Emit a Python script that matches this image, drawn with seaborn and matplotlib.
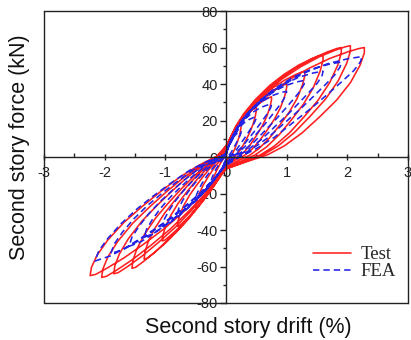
import numpy as np
import pandas as pd
import matplotlib
matplotlib.use("Agg")
import matplotlib.pyplot as plt
import seaborn as sns

# ---- data ----
# peak points of each cycle (drift %, force kN)
test_pos_drift = [0.25, 0.5, 0.75, 1.0, 1.3, 1.6, 1.9, 2.05, 2.28]
test_pos_force = [18, 27, 33, 40, 47, 56, 60, 61, 60]
test_neg_drift = [-0.25, -0.5, -0.8, -1.05, -1.35, -1.55, -1.85, -2.05, -2.24]
test_neg_force = [-18, -28, -38, -46, -56, -61, -64, -66, -65]

fea_pos_drift = [0.25, 0.5, 0.75, 1.0, 1.3, 1.6, 1.9, 2.24]
fea_pos_force = [14, 22, 29, 36, 42, 47, 52, 55]
fea_neg_drift = [-0.25, -0.5, -0.8, -1.05, -1.35, -1.6, -1.9, -2.16]
fea_neg_force = [-14, -23, -31, -38, -44, -49, -53, -57]

# loop outline read from the largest loops, as fractions of the cycle peak
test_loop_pos_x = [0.0, 0.05, 0.1, 0.18, 0.3, 0.45, 0.6, 0.75, 0.88, 0.96, 1.0,
                   1.0, 0.97, 0.9, 0.8, 0.68, 0.55, 0.42, 0.3, 0.18]
test_loop_pos_y = [0.1, 0.2, 0.3, 0.42, 0.56, 0.7, 0.81, 0.9, 0.96, 0.99, 1.0,
                   0.95, 0.84, 0.68, 0.52, 0.37, 0.22, 0.1, 0.02, -0.03]
test_loop_neg_x = [0.0, 0.08, 0.18, 0.3, 0.45, 0.6, 0.75, 0.88, 0.96, 1.0,
                   0.99, 0.95, 0.87, 0.75, 0.62, 0.48, 0.34, 0.2, 0.08]
test_loop_neg_y = [0.1, 0.2, 0.32, 0.45, 0.6, 0.73, 0.85, 0.94, 0.99, 1.0,
                   0.93, 0.83, 0.7, 0.55, 0.42, 0.29, 0.17, 0.07, 0.0]

fea_loop_pos_x = [0.0, 0.05, 0.1, 0.18, 0.3, 0.42, 0.58, 0.75, 0.9, 1.0,
                  0.99, 0.94, 0.86, 0.76, 0.64, 0.5, 0.36, 0.22, 0.1]
fea_loop_pos_y = [0.05, 0.18, 0.3, 0.45, 0.6, 0.72, 0.84, 0.93, 0.98, 1.0,
                  0.95, 0.86, 0.76, 0.64, 0.5, 0.35, 0.2, 0.08, 0.0]
fea_loop_neg_x = [0.0, 0.1, 0.2, 0.32, 0.46, 0.6, 0.75, 0.88, 1.0,
                  0.97, 0.9, 0.8, 0.68, 0.55, 0.42, 0.28, 0.14, 0.05]
fea_loop_neg_y = [0.08, 0.22, 0.35, 0.48, 0.62, 0.74, 0.86, 0.95, 1.0,
                  0.9, 0.78, 0.64, 0.5, 0.37, 0.25, 0.13, 0.04, 0.0]

series_names = ["Test", "FEA"]
x_ticks = [-3, -2, -1, 0, 1, 2, 3]
y_ticks = [-80, -60, -40, -20, 0, 20, 40, 60, 80]


def build(name, pd_, pf_, nd_, nf_, px, py, nx, ny):
    rows = [(name, 0, 0.0, 0.0)]
    k = 1
    for a, P, b, N in zip(pd_, pf_, nd_, nf_):
        for fx, fy in zip(px, py):
            rows.append((name, k, fx * a, fy * P)); k += 1
        for fx, fy in zip(nx, ny):
            rows.append((name, k, fx * b, fy * N)); k += 1
    return rows


rows = build("Test", test_pos_drift, test_pos_force, test_neg_drift, test_neg_force,
             test_loop_pos_x, test_loop_pos_y, test_loop_neg_x, test_loop_neg_y)
rows += build("FEA", fea_pos_drift, fea_pos_force, fea_neg_drift, fea_neg_force,
              fea_loop_pos_x, fea_loop_pos_y, fea_loop_neg_x, fea_loop_neg_y)
df = pd.DataFrame(rows, columns=["series", "order", "drift", "force"])

sns.set_theme(style="white")
plt.rcParams["font.family"] = ["Liberation Sans", "DejaVu Sans"]

fig = plt.figure(figsize=(4.11, 3.40), dpi=100)
ax = fig.add_axes([44 / 411, 37 / 340, 364 / 411, 292 / 340])

sns.lineplot(data=df, x="drift", y="force", hue="series", style="series",
             hue_order=series_names, style_order=series_names,
             palette={"Test": "#ff1f1f", "FEA": "#2323e6"},
             dashes={"Test": "", "FEA": (4, 2.5)},
             sort=False, estimator=None, linewidth=1.15, ax=ax)

ax.set_xlim(-3, 3)
ax.set_ylim(-80, 80)
ax.set_xticks(x_ticks)
ax.set_yticks(y_ticks)
ax.set_xticklabels([str(t) for t in x_ticks])
ax.set_yticklabels([str(t) for t in y_ticks])
ax.set_xticks(np.arange(-2.5, 3, 1.0), minor=True)
ax.set_yticks(np.arange(-70, 80, 20), minor=True)

for s in ["left", "bottom"]:
    ax.spines[s].set_position(("data", 0))
for s in ax.spines.values():
    s.set_color("#222222")
    s.set_linewidth(1.0)
# outer frame edges (left and bottom)
ax.plot([0, 0], [0, 1], transform=ax.transAxes, color="#222222", lw=1.0, clip_on=False)
ax.plot([0, 1], [0, 0], transform=ax.transAxes, color="#222222", lw=1.0, clip_on=False)

ax.tick_params(axis="x", which="major", direction="inout", length=5, width=1,
               labelsize=10.5, pad=4, colors="#222222", bottom=True)
ax.tick_params(axis="x", which="minor", direction="in", length=3, width=1, bottom=True)
ax.tick_params(axis="y", which="major", direction="out", length=4, width=1,
               labelsize=10.5, pad=2, colors="#222222", left=True)
ax.tick_params(axis="y", which="minor", direction="out", length=2.5, width=1, left=True)

ax.set_xlabel("Second story drift (%)", fontsize=15.5, color="#111111")
ax.set_ylabel("Second story force (kN)", fontsize=15.5, color="#111111")
ax.xaxis.set_label_coords((248 - 44) / 364, (303 - 327) / 292)
ax.xaxis.label.set_va("center")
ax.yaxis.set_label_coords((20 - 44) / 364, (303 - 147) / 292)
ax.yaxis.label.set_va("center")

leg = ax.legend(frameon=False, loc="upper left",
                bbox_to_anchor=((313 - 44) / 364, (303 - 246) / 292),
                prop={"family": "Liberation Serif", "size": 13.5},
                handlelength=2.0, handletextpad=0.55, labelspacing=0.0,
                borderpad=0, borderaxespad=0)

fig.savefig("out.png", dpi=100)
